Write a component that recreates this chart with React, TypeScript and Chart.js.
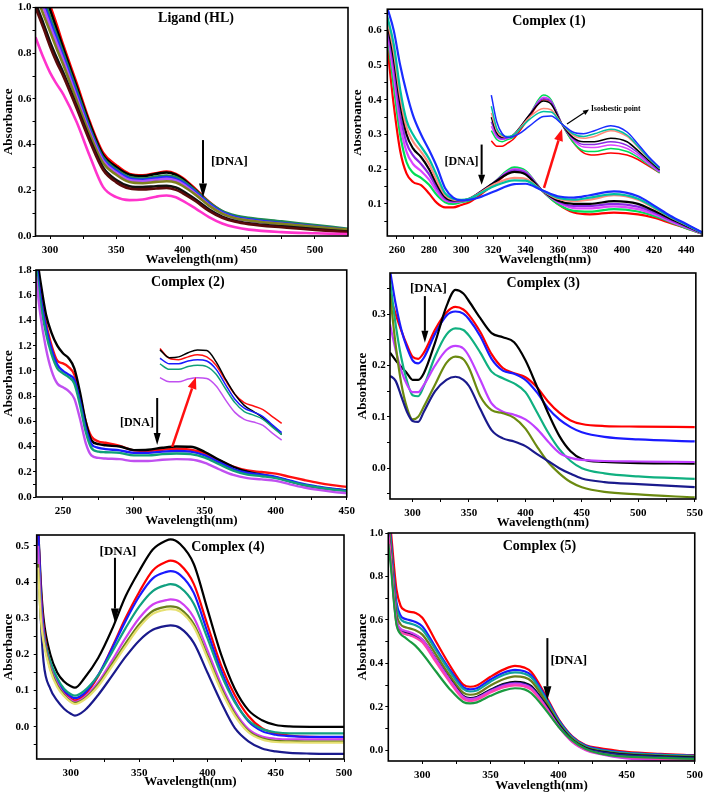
import React, { useEffect, useRef } from "react";
import { Chart, registerables } from "chart.js";

Chart.register(...registerables);

const FONT = "'Liberation Serif', 'Times New Roman', Times, serif";

// ---------------- Panel 1: Ligand (HL) ----------------
const ligWl = [289, 295, 300, 305, 310, 320, 330, 340, 350, 360, 370, 380, 388, 395, 400, 410, 420, 430, 440, 450, 475, 500, 525];
const ligRed = [1.2, 1.1, 1.01, 0.925, 0.835, 0.67, 0.5, 0.365, 0.31, 0.272, 0.266, 0.275, 0.282, 0.272, 0.255, 0.205, 0.15, 0.108, 0.084, 0.072, 0.055, 0.04, 0.026];
const ligBlack = [1.17, 1.08, 0.99, 0.905, 0.82, 0.655, 0.49, 0.355, 0.302, 0.268, 0.262, 0.272, 0.278, 0.268, 0.25, 0.2, 0.146, 0.105, 0.082, 0.07, 0.053, 0.038, 0.024];
const ligGreen = [1.12, 1.04, 0.96, 0.88, 0.8, 0.64, 0.475, 0.345, 0.292, 0.258, 0.252, 0.26, 0.265, 0.258, 0.243, 0.198, 0.148, 0.11, 0.09, 0.08, 0.064, 0.048, 0.032];
const ligBlue = [1.1, 1.02, 0.94, 0.865, 0.785, 0.625, 0.465, 0.337, 0.285, 0.252, 0.246, 0.253, 0.258, 0.25, 0.236, 0.192, 0.142, 0.104, 0.083, 0.073, 0.057, 0.042, 0.028];
const ligViolet = [1.08, 1.0, 0.92, 0.845, 0.77, 0.61, 0.455, 0.33, 0.278, 0.245, 0.24, 0.246, 0.25, 0.243, 0.228, 0.185, 0.136, 0.099, 0.078, 0.068, 0.052, 0.038, 0.025];
const ligOlive = [1.06, 0.97, 0.895, 0.82, 0.75, 0.595, 0.445, 0.32, 0.268, 0.236, 0.231, 0.237, 0.24, 0.234, 0.22, 0.18, 0.133, 0.098, 0.078, 0.068, 0.053, 0.04, 0.028];
const ligBlack2 = [1.02, 0.93, 0.85, 0.78, 0.715, 0.57, 0.425, 0.3, 0.245, 0.218, 0.214, 0.218, 0.22, 0.212, 0.198, 0.16, 0.117, 0.085, 0.066, 0.056, 0.042, 0.03, 0.019];
const ligMaroon = [1.0, 0.91, 0.83, 0.76, 0.7, 0.56, 0.415, 0.29, 0.235, 0.208, 0.204, 0.208, 0.21, 0.202, 0.188, 0.152, 0.11, 0.08, 0.062, 0.052, 0.038, 0.027, 0.017];
const ligPink = [0.87, 0.78, 0.715, 0.665, 0.62, 0.5, 0.35, 0.215, 0.17, 0.157, 0.16, 0.172, 0.177, 0.17, 0.155, 0.12, 0.083, 0.055, 0.038, 0.028, 0.017, 0.012, 0.008];

// ---------------- Panel 2: Complex (1) ----------------
const c1Wl = [254, 258, 262, 266, 270, 275, 280, 285, 290, 295, 300, 305, 310, 320, 333, 340, 350, 360, 370, 380, 395, 410, 420, 430, 440, 450];
const c1Red = [0.555, 0.385, 0.253, 0.187, 0.163, 0.154, 0.13, 0.102, 0.09, 0.09, 0.097, 0.105, 0.12, 0.155, 0.195, 0.19, 0.14, 0.1, 0.075, 0.07, 0.075, 0.07, 0.06, 0.045, 0.03, 0.014];
const c1Green = [0.59, 0.44, 0.3, 0.22, 0.19, 0.175, 0.155, 0.125, 0.105, 0.1, 0.105, 0.11, 0.125, 0.16, 0.205, 0.195, 0.14, 0.1, 0.08, 0.078, 0.085, 0.078, 0.065, 0.048, 0.03, 0.014];
const c1Magenta = [0.6, 0.47, 0.33, 0.25, 0.215, 0.195, 0.17, 0.135, 0.11, 0.105, 0.108, 0.113, 0.127, 0.16, 0.2, 0.192, 0.14, 0.105, 0.088, 0.087, 0.093, 0.085, 0.07, 0.05, 0.032, 0.015];
const c1Purple = [0.61, 0.5, 0.36, 0.275, 0.24, 0.215, 0.185, 0.145, 0.115, 0.107, 0.109, 0.114, 0.128, 0.16, 0.197, 0.19, 0.14, 0.108, 0.094, 0.094, 0.1, 0.092, 0.075, 0.054, 0.034, 0.015];
const c1Black = [0.62, 0.52, 0.39, 0.3, 0.26, 0.235, 0.2, 0.155, 0.12, 0.11, 0.11, 0.115, 0.128, 0.16, 0.192, 0.185, 0.14, 0.11, 0.1, 0.1, 0.108, 0.1, 0.08, 0.058, 0.037, 0.016];
const c1Salmon = [0.63, 0.54, 0.41, 0.32, 0.28, 0.25, 0.215, 0.165, 0.125, 0.112, 0.11, 0.115, 0.127, 0.155, 0.175, 0.172, 0.14, 0.115, 0.108, 0.112, 0.125, 0.112, 0.088, 0.062, 0.04, 0.017];
const c1Teal = [0.64, 0.56, 0.43, 0.34, 0.3, 0.265, 0.23, 0.18, 0.13, 0.115, 0.112, 0.115, 0.126, 0.15, 0.168, 0.167, 0.14, 0.118, 0.112, 0.118, 0.128, 0.115, 0.09, 0.063, 0.04, 0.017];
const c1Blue = [0.665, 0.6, 0.5, 0.42, 0.355, 0.3, 0.255, 0.205, 0.145, 0.118, 0.11, 0.112, 0.117, 0.135, 0.157, 0.158, 0.14, 0.122, 0.118, 0.125, 0.136, 0.122, 0.095, 0.066, 0.042, 0.018];

// ---------------- Panel 3: Complex (2) ----------------
const c2Wl = [231, 234, 238, 242, 246, 250, 254, 258, 262, 266, 270, 275, 280, 290, 300, 310, 320, 330, 340, 350, 360, 370, 380, 390, 400, 410, 420, 430, 440, 450];
const c2Black = [1.95, 1.72, 1.45, 1.3, 1.2, 1.14, 1.1, 1.02, 0.83, 0.6, 0.45, 0.42, 0.41, 0.4, 0.372, 0.375, 0.39, 0.4, 0.398, 0.357, 0.295, 0.24, 0.2, 0.178, 0.155, 0.125, 0.095, 0.075, 0.061, 0.053];
const c2Red = [1.85, 1.62, 1.38, 1.2, 1.08, 1.06, 1.03, 0.97, 0.8, 0.6, 0.48, 0.44, 0.43, 0.405, 0.37, 0.365, 0.375, 0.383, 0.375, 0.345, 0.29, 0.24, 0.21, 0.198, 0.185, 0.16, 0.135, 0.112, 0.094, 0.08];
const c2Blue = [1.88, 1.6, 1.35, 1.17, 1.05, 1.0, 0.97, 0.93, 0.76, 0.55, 0.42, 0.39, 0.38, 0.37, 0.35, 0.35, 0.36, 0.365, 0.36, 0.33, 0.275, 0.222, 0.19, 0.176, 0.16, 0.13, 0.102, 0.082, 0.065, 0.052];
const c2Teal = [1.82, 1.55, 1.3, 1.13, 1.02, 0.98, 0.95, 0.9, 0.73, 0.52, 0.39, 0.36, 0.355, 0.35, 0.33, 0.33, 0.34, 0.345, 0.34, 0.312, 0.26, 0.21, 0.178, 0.165, 0.15, 0.122, 0.095, 0.075, 0.059, 0.047];
const c2Magenta = [1.75, 1.45, 1.18, 1.0, 0.9, 0.87, 0.84, 0.78, 0.62, 0.43, 0.33, 0.31, 0.305, 0.3, 0.285, 0.285, 0.295, 0.3, 0.297, 0.27, 0.22, 0.175, 0.15, 0.14, 0.128, 0.1, 0.075, 0.056, 0.041, 0.031];

// ---------------- Panel 4: Complex (3) ----------------
const c3Wl = [280, 285, 290, 295, 300, 305, 310, 320, 330, 338, 345, 350, 360, 370, 380, 390, 400, 410, 420, 430, 440, 450, 470, 500, 550];
const c3Black = [0.225, 0.21, 0.197, 0.185, 0.172, 0.172, 0.185, 0.245, 0.315, 0.347, 0.34, 0.325, 0.292, 0.263, 0.255, 0.245, 0.21, 0.16, 0.108, 0.063, 0.033, 0.018, 0.012, 0.01, 0.009];
const c3Red = [0.335, 0.3, 0.268, 0.24, 0.217, 0.213, 0.225, 0.27, 0.303, 0.314, 0.309, 0.298, 0.265, 0.222, 0.195, 0.185, 0.177, 0.158, 0.13, 0.108, 0.093, 0.086, 0.082, 0.081, 0.08];
const c3Blue = [0.385, 0.32, 0.27, 0.235, 0.21, 0.204, 0.215, 0.262, 0.297, 0.305, 0.301, 0.29, 0.257, 0.213, 0.19, 0.184, 0.172, 0.148, 0.117, 0.095, 0.08, 0.07, 0.061, 0.056, 0.052];
const c3Teal = [0.365, 0.28, 0.215, 0.17, 0.142, 0.14, 0.16, 0.218, 0.26, 0.272, 0.269, 0.258, 0.225, 0.188, 0.175, 0.165, 0.148, 0.11, 0.07, 0.037, 0.014, 0.0, -0.01, -0.016, -0.021];
const c3Magenta = [0.28, 0.23, 0.19, 0.163, 0.148, 0.148, 0.162, 0.2, 0.23, 0.238, 0.233, 0.218, 0.172, 0.126, 0.11, 0.104, 0.095, 0.077, 0.052, 0.03, 0.02, 0.016, 0.014, 0.013, 0.012];
const c3Olive = [0.34, 0.24, 0.165, 0.118, 0.095, 0.1, 0.12, 0.163, 0.205, 0.217, 0.212, 0.195, 0.14, 0.113, 0.107, 0.098, 0.077, 0.043, 0.012, -0.01, -0.027, -0.037, -0.046, -0.051, -0.057];
const c3Navy = [0.18, 0.17, 0.14, 0.11, 0.092, 0.09, 0.11, 0.15, 0.172, 0.178, 0.172, 0.16, 0.115, 0.074, 0.058, 0.052, 0.043, 0.028, 0.014, 0.0, -0.011, -0.02, -0.027, -0.031, -0.037];

// ---------------- Panel 5: Complex (4) ----------------
const c4Wl = [276, 278, 280, 285, 290, 295, 300, 303, 310, 320, 330, 340, 350, 360, 370, 373, 380, 390, 400, 410, 420, 430, 440, 450, 460, 475, 500];
const c4Black = [0.56, 0.4, 0.3, 0.2, 0.15, 0.125, 0.112, 0.108, 0.135, 0.19, 0.268, 0.36, 0.43, 0.49, 0.515, 0.518, 0.505, 0.45, 0.325, 0.2, 0.105, 0.046, 0.018, 0.005, 0.001, 0.0, 0.0];
const c4Red = [0.55, 0.38, 0.28, 0.175, 0.125, 0.095, 0.078, 0.073, 0.088, 0.14, 0.218, 0.3, 0.372, 0.432, 0.456, 0.459, 0.448, 0.395, 0.282, 0.17, 0.088, 0.03, -0.004, -0.018, -0.024, -0.028, -0.029];
const c4Blue = [0.56, 0.37, 0.27, 0.17, 0.13, 0.1, 0.084, 0.079, 0.093, 0.143, 0.215, 0.292, 0.36, 0.41, 0.428, 0.43, 0.42, 0.37, 0.262, 0.155, 0.072, 0.015, -0.012, -0.022, -0.026, -0.028, -0.028];
const c4Teal = [0.5, 0.34, 0.26, 0.18, 0.135, 0.105, 0.09, 0.086, 0.1, 0.142, 0.205, 0.272, 0.332, 0.375, 0.392, 0.394, 0.385, 0.34, 0.245, 0.145, 0.068, 0.018, -0.006, -0.015, -0.018, -0.018, -0.018];
const c4Magenta = [0.5, 0.33, 0.25, 0.165, 0.12, 0.09, 0.074, 0.069, 0.082, 0.123, 0.182, 0.245, 0.3, 0.338, 0.35, 0.352, 0.345, 0.302, 0.212, 0.118, 0.043, -0.006, -0.027, -0.033, -0.035, -0.035, -0.035];
const c4Olive = [0.45, 0.3, 0.24, 0.16, 0.115, 0.088, 0.07, 0.066, 0.078, 0.117, 0.172, 0.23, 0.283, 0.32, 0.332, 0.333, 0.326, 0.284, 0.197, 0.107, 0.035, -0.012, -0.032, -0.039, -0.04, -0.041, -0.041];
const c4Yellow = [0.44, 0.3, 0.235, 0.155, 0.11, 0.085, 0.068, 0.063, 0.075, 0.112, 0.166, 0.222, 0.275, 0.312, 0.324, 0.325, 0.318, 0.276, 0.19, 0.101, 0.031, -0.015, -0.035, -0.042, -0.043, -0.044, -0.044];
const c4Navy = [0.55, 0.3, 0.18, 0.105, 0.072, 0.05, 0.036, 0.031, 0.045, 0.088, 0.14, 0.193, 0.238, 0.268, 0.279, 0.28, 0.273, 0.232, 0.15, 0.068, -0.003, -0.04, -0.06, -0.068, -0.072, -0.074, -0.075];

// ---------------- Panel 6: Complex (5) ----------------
const c5Wl = [275, 277, 279, 281, 284, 287, 290, 295, 300, 310, 320, 330, 335, 340, 350, 360, 368, 375, 380, 390, 400, 410, 420, 430, 440, 450, 475, 500];
const c5Red = [1.1, 1.0, 0.86, 0.74, 0.665, 0.645, 0.638, 0.632, 0.61, 0.5, 0.392, 0.302, 0.292, 0.298, 0.338, 0.372, 0.388, 0.38, 0.36, 0.258, 0.143, 0.064, 0.023, 0.009, 0.0, -0.008, -0.017, -0.023];
const c5Blue = [1.08, 0.96, 0.8, 0.68, 0.62, 0.605, 0.6, 0.59, 0.57, 0.47, 0.372, 0.29, 0.28, 0.285, 0.325, 0.358, 0.37, 0.363, 0.345, 0.25, 0.14, 0.062, 0.02, 0.004, -0.006, -0.012, -0.02, -0.025];
const c5Teal = [1.06, 0.94, 0.78, 0.66, 0.605, 0.59, 0.585, 0.575, 0.555, 0.46, 0.363, 0.282, 0.27, 0.275, 0.315, 0.347, 0.358, 0.352, 0.335, 0.243, 0.135, 0.058, 0.017, 0.001, -0.008, -0.014, -0.022, -0.027];
const c5Olive = [1.04, 0.92, 0.75, 0.63, 0.58, 0.567, 0.562, 0.552, 0.532, 0.44, 0.345, 0.265, 0.255, 0.26, 0.298, 0.328, 0.34, 0.335, 0.318, 0.23, 0.127, 0.053, 0.013, -0.003, -0.012, -0.018, -0.026, -0.03];
const c5Black = [1.0, 0.88, 0.72, 0.6, 0.555, 0.543, 0.538, 0.528, 0.508, 0.42, 0.328, 0.25, 0.24, 0.245, 0.278, 0.305, 0.315, 0.31, 0.295, 0.215, 0.12, 0.048, 0.01, -0.006, -0.015, -0.021, -0.029, -0.033];
const c5Magenta = [1.0, 0.88, 0.72, 0.6, 0.56, 0.55, 0.545, 0.532, 0.51, 0.418, 0.325, 0.245, 0.235, 0.24, 0.272, 0.298, 0.306, 0.3, 0.285, 0.205, 0.11, 0.038, 0.0, -0.018, -0.03, -0.038, -0.046, -0.05];
const c5Pink = [0.98, 0.86, 0.7, 0.58, 0.545, 0.535, 0.53, 0.518, 0.497, 0.405, 0.315, 0.236, 0.226, 0.232, 0.265, 0.29, 0.298, 0.293, 0.278, 0.2, 0.108, 0.04, 0.002, -0.015, -0.025, -0.032, -0.04, -0.045];
const c5Navy = [1.0, 0.87, 0.71, 0.59, 0.55, 0.538, 0.532, 0.522, 0.502, 0.413, 0.322, 0.246, 0.237, 0.242, 0.276, 0.302, 0.31, 0.305, 0.29, 0.21, 0.116, 0.045, 0.008, -0.008, -0.017, -0.023, -0.031, -0.035];
const c5Green = [0.95, 0.84, 0.69, 0.58, 0.535, 0.52, 0.505, 0.48, 0.445, 0.362, 0.282, 0.222, 0.215, 0.22, 0.25, 0.275, 0.285, 0.28, 0.262, 0.19, 0.108, 0.045, 0.005, -0.015, -0.025, -0.03, -0.036, -0.04];

// ---------------- Tick labels ----------------
const ligXMajor = [300, 350, 400, 450, 500];
const ligXMinor = [325, 375, 425, 475];
const ligYMajor = [0, 0.2, 0.4, 0.6, 0.8, 1.0];
const ligYMinor = [0.1, 0.3, 0.5, 0.7, 0.9];
const c1XMajor = [260, 280, 300, 320, 340, 360, 380, 400, 420, 440];
const c1XMinor = [270, 290, 310, 330, 350, 370, 390, 410, 430];
const c1YMajor = [0.1, 0.2, 0.3, 0.4, 0.5, 0.6];
const c1YMinor = [0.05, 0.15, 0.25, 0.35, 0.45, 0.55, 0.65];
const c2XMajor = [250, 300, 350, 400, 450];
const c2XMinor = [275, 325, 375, 425];
const c2YMajor = [0, 0.2, 0.4, 0.6, 0.8, 1.0, 1.2, 1.4, 1.6, 1.8];
const c2YMinor = [0.1, 0.3, 0.5, 0.7, 0.9, 1.1, 1.3, 1.5, 1.7];
const c3XMajor = [300, 350, 400, 450, 500, 550];
const c3XMinor = [325, 375, 425, 475, 525];
const c3YMajor = [0, 0.1, 0.2, 0.3];
const c3YMinor = [-0.05, 0.05, 0.15, 0.25, 0.35];
const c4XMajor = [300, 350, 400, 450, 500];
const c4XMinor = [325, 375, 425, 475];
const c4YMajor = [0, 0.1, 0.2, 0.3, 0.4, 0.5];
const c4YMinor = [-0.05, 0.05, 0.15, 0.25, 0.35, 0.45];
const c5XMajor = [300, 350, 400, 450, 500];
const c5XMinor = [325, 375, 425, 475];
const c5YMajor = [0, 0.2, 0.4, 0.6, 0.8, 1.0];
const c5YMinor = [0.1, 0.3, 0.5, 0.7, 0.9];

type Series = { label: string; color: string; values: number[] };
type Txt = { x: number; y: number; text: string; size: number; align: CanvasTextAlign };
type Arr = { x1: number; y1: number; x2: number; y2: number; color: string; w: number; hl: number; hw: number };
type Inset = { xMin: number; xMax: number; yMin: number; yMax: number; lo: number; hi: number; width: number };
type Panel = {
  id: string;
  box: { x: number; y: number; w: number; h: number };
  padTop: number; padRight: number; yW: number; xH: number;
  yTitlePad: number; yLabelPad: number;
  wl: number[]; series: Series[]; lw: number;
  xMin: number; xMax: number; yMin: number; yMax: number;
  xMajor: number[]; xMinor: number[]; yMajor: number[]; yMinor: number[];
  texts: Txt[]; arrows: Arr[]; inset?: Inset;
};

const panels: Panel[] = [
  {
    id: "lig", box: { x: 0, y: 0, w: 360, h: 266 }, padTop: 5, padRight: 12, yW: 35.5, xH: 30,
    yTitlePad: 1.8, yLabelPad: 1,
    wl: ligWl, lw: 2.6,
    series: [
      { label: "pink", color: "#ff33cc", values: ligPink },
      { label: "maroon", color: "#5a0a0a", values: ligMaroon },
      { label: "black2", color: "#111111", values: ligBlack2 },
      { label: "olive", color: "#808020", values: ligOlive },
      { label: "violet", color: "#b050ff", values: ligViolet },
      { label: "blue", color: "#2030ff", values: ligBlue },
      { label: "green", color: "#208a50", values: ligGreen },
      { label: "black", color: "#000000", values: ligBlack },
      { label: "red", color: "#ff0000", values: ligRed },
    ],
    xMin: 289, xMax: 525, yMin: 0, yMax: 1.0,
    xMajor: ligXMajor, xMinor: ligXMinor, yMajor: ligYMajor, yMinor: ligYMinor,
    texts: [
      { x: 410.2, y: 0.952, text: "Ligand (HL)", size: 14, align: "center" },
      { x: 421.5, y: 0.325, text: "[DNA]", size: 13, align: "left" },
    ],
    arrows: [{ x1: 415.5, y1: 0.42, x2: 415.5, y2: 0.169, color: "#000", w: 2, hl: 14, hw: 8 }],
  },
  {
    id: "c1", box: { x: 354, y: 0, w: 354, h: 266 }, padTop: 5, padRight: 5.7, yW: 33.3, xH: 30,
    yTitlePad: -2.5, yLabelPad: 2.6,
    wl: c1Wl, lw: 2.2,
    series: [
      { label: "blue", color: "#1a2cff", values: c1Blue },
      { label: "teal", color: "#00c0a0", values: c1Teal },
      { label: "salmon", color: "#ff8a7a", values: c1Salmon },
      { label: "black", color: "#000000", values: c1Black },
      { label: "purple", color: "#8a2be2", values: c1Purple },
      { label: "magenta", color: "#dd44ff", values: c1Magenta },
      { label: "green", color: "#00dd55", values: c1Green },
      { label: "red", color: "#ff0000", values: c1Red },
    ],
    xMin: 254, xMax: 450, yMin: 0.0075, yMax: 0.661,
    xMajor: c1XMajor, xMinor: c1XMinor, yMajor: c1YMajor, yMinor: c1YMinor,
    texts: [
      { x: 354.6, y: 0.627, text: "Complex (1)", size: 14, align: "center" },
      { x: 310.8, y: 0.22, text: "[DNA]", size: 12, align: "right" },
      { x: 380.8, y: 0.372, text: "Isosbestic point", size: 7.5, align: "left" },
    ],
    arrows: [
      { x1: 312.7, y1: 0.271, x2: 312.7, y2: 0.155, color: "#000", w: 2, hl: 10, hw: 7 },
      { x1: 351.5, y1: 0.146, x2: 362.7, y2: 0.316, color: "#ff1010", w: 2.5, hl: 12, hw: 9 },
      { x1: 365.8, y1: 0.33, x2: 379.5, y2: 0.372, color: "#000", w: 1.2, hl: 6, hw: 5 },
    ],
    inset: { xMin: 189.2, xMax: 479.3, yMin: -0.1121, yMax: 0.3984, lo: 285, hi: 440, width: 1.5 },
  },
  {
    id: "c2", box: { x: 0, y: 262, w: 360, h: 265 }, padTop: 8, padRight: 13, yW: 36, xH: 30,
    yTitlePad: 1.8, yLabelPad: 1.3,
    wl: c2Wl, lw: 2.4,
    series: [
      { label: "magenta", color: "#c050f0", values: c2Magenta },
      { label: "teal", color: "#10a078", values: c2Teal },
      { label: "blue", color: "#1a1aff", values: c2Blue },
      { label: "black", color: "#000000", values: c2Black },
      { label: "red", color: "#ff1010", values: c2Red },
    ],
    xMin: 231, xMax: 450, yMin: 0, yMax: 1.8,
    xMajor: c2XMajor, xMinor: c2XMinor, yMajor: c2YMajor, yMinor: c2YMinor,
    texts: [
      { x: 338, y: 1.705, text: "Complex (2)", size: 14, align: "center" },
      { x: 314.1, y: 0.587, text: "[DNA]", size: 12, align: "right" },
    ],
    arrows: [
      { x1: 316.4, y1: 0.785, x2: 316.4, y2: 0.412, color: "#000", w: 2, hl: 12, hw: 7 },
      { x1: 327, y1: 0.397, x2: 343.7, y2: 0.952, color: "#ff1010", w: 2.5, hl: 12, hw: 9 },
    ],
    inset: { xMin: 157.6, xMax: 489.5, yMin: -0.13, yMax: 0.688, lo: 290, hi: 425, width: 1.5 },
  },
  {
    id: "c3", box: { x: 354, y: 262, w: 354, h: 267 }, padTop: 11, padRight: 10.7, yW: 36, xH: 30,
    yTitlePad: 1.8, yLabelPad: 1.3,
    wl: c3Wl, lw: 2.2,
    series: [
      { label: "navy", color: "#1a1a8c", values: c3Navy },
      { label: "olive", color: "#6b8a10", values: c3Olive },
      { label: "magenta", color: "#c040ff", values: c3Magenta },
      { label: "teal", color: "#10b080", values: c3Teal },
      { label: "black", color: "#000000", values: c3Black },
      { label: "blue", color: "#1a1aff", values: c3Blue },
      { label: "red", color: "#ff0000", values: c3Red },
    ],
    xMin: 280, xMax: 551, yMin: -0.06, yMax: 0.38,
    xMajor: c3XMajor, xMinor: c3XMinor, yMajor: c3YMajor, yMinor: c3YMinor,
    texts: [
      { x: 415.8, y: 0.359, text: "Complex (3)", size: 14, align: "center" },
      { x: 314, y: 0.349, text: "[DNA]", size: 13, align: "center" },
    ],
    arrows: [{ x1: 310.9, y1: 0.335, x2: 310.9, y2: 0.244, color: "#000", w: 2, hl: 12, hw: 7 }],
  },
  {
    id: "c4", box: { x: 0, y: 524, w: 360, h: 264 }, padTop: 10, padRight: 16, yW: 36.7, xH: 29,
    yTitlePad: 2.5, yLabelPad: 4.4,
    wl: c4Wl, lw: 2.2,
    series: [
      { label: "yellow", color: "#e6e070", values: c4Yellow },
      { label: "olive", color: "#6b7f1a", values: c4Olive },
      { label: "magenta", color: "#d040f0", values: c4Magenta },
      { label: "teal", color: "#10a080", values: c4Teal },
      { label: "blue", color: "#1a1aff", values: c4Blue },
      { label: "red", color: "#ff0000", values: c4Red },
      { label: "navy", color: "#1a1a8c", values: c4Navy },
      { label: "black", color: "#000000", values: c4Black },
    ],
    xMin: 275, xMax: 500, yMin: -0.089, yMax: 0.53,
    xMajor: c4XMajor, xMinor: c4XMinor, yMajor: c4YMajor, yMinor: c4YMinor,
    texts: [
      { x: 415, y: 0.497, text: "Complex (4)", size: 14, align: "center" },
      { x: 334.5, y: 0.483, text: "[DNA]", size: 13, align: "center" },
    ],
    arrows: [{ x1: 332.3, y1: 0.467, x2: 332.3, y2: 0.288, color: "#000", w: 2, hl: 14, hw: 8 }],
  },
  {
    id: "c5", box: { x: 354, y: 523, w: 354, h: 269 }, padTop: 10, padRight: 10, yW: 34.3, xH: 31,
    yTitlePad: 2.5, yLabelPad: 2,
    wl: c5Wl, lw: 2.2,
    series: [
      { label: "green", color: "#1a9a40", values: c5Green },
      { label: "pink", color: "#ff40b0", values: c5Pink },
      { label: "magenta", color: "#d040f0", values: c5Magenta },
      { label: "navy", color: "#1a1a8c", values: c5Navy },
      { label: "black", color: "#000000", values: c5Black },
      { label: "olive", color: "#6b7f1a", values: c5Olive },
      { label: "teal", color: "#10a0a0", values: c5Teal },
      { label: "blue", color: "#1a1aff", values: c5Blue },
      { label: "red", color: "#ff0000", values: c5Red },
    ],
    xMin: 275, xMax: 500, yMin: -0.05, yMax: 1.0,
    xMajor: c5XMajor, xMinor: c5XMinor, yMajor: c5YMajor, yMinor: c5YMinor,
    texts: [
      { x: 386, y: 0.94, text: "Complex (5)", size: 14, align: "center" },
      { x: 394, y: 0.414, text: "[DNA]", size: 13, align: "left" },
    ],
    arrows: [{ x1: 391.8, y1: 0.516, x2: 391.8, y2: 0.23, color: "#000", w: 2, hl: 14, hw: 8 }],
  },
];

function drawArrow(ctx: CanvasRenderingContext2D, x1: number, y1: number, x2: number, y2: number, a: Arr) {
  const ang = Math.atan2(y2 - y1, x2 - x1);
  const bx = x2 - a.hl * Math.cos(ang);
  const by = y2 - a.hl * Math.sin(ang);
  ctx.strokeStyle = a.color;
  ctx.lineWidth = a.w;
  ctx.beginPath();
  ctx.moveTo(x1, y1);
  ctx.lineTo(bx, by);
  ctx.stroke();
  ctx.fillStyle = a.color;
  ctx.beginPath();
  ctx.moveTo(x2, y2);
  ctx.lineTo(bx + (a.hw / 2) * Math.sin(ang), by - (a.hw / 2) * Math.cos(ang));
  ctx.lineTo(bx - (a.hw / 2) * Math.sin(ang), by + (a.hw / 2) * Math.cos(ang));
  ctx.closePath();
  ctx.fill();
}

const isIn = (v: number, arr: number[]) => arr.some((m) => Math.abs(m - v) < 1e-6);

function buildConfig(p: Panel): any {
  const datasets: any[] = p.series.map((s) => ({
    label: s.label,
    data: p.wl.map((x, i) => ({ x, y: s.values[i] })),
    borderColor: s.color,
    backgroundColor: s.color,
    borderWidth: p.lw,
    pointRadius: 0,
    fill: false,
    tension: 0.4,
    cubicInterpolationMode: "monotone",
    xAxisID: "x",
    yAxisID: "y",
  }));
  const scales: any = {
    x: {
      type: "linear",
      position: "bottom",
      min: p.xMin,
      max: p.xMax,
      afterBuildTicks: (ax: any) => {
        ax.ticks = [...p.xMajor, ...p.xMinor].sort((a, b) => a - b).map((v) => ({ value: v }));
      },
      afterFit: (ax: any) => {
        ax.height = p.xH;
      },
      ticks: {
        autoSkip: false,
        maxRotation: 0,
        padding: 5,
        color: "#000",
        font: { family: FONT, size: 11, weight: "bold" },
        callback: (v: number) => (isIn(v, p.xMajor) ? String(Math.round(v)) : ""),
      },
      grid: { display: true, drawOnChartArea: false, drawTicks: true, tickLength: 3, color: "#000", lineWidth: 1 },
      border: { display: false },
      title: {
        display: true,
        text: "Wavelength(nm)",
        color: "#000",
        font: { family: FONT, size: 13, weight: "bold", lineHeight: 1 },
        padding: { top: 0, bottom: 0 },
      },
    },
    y: {
      type: "linear",
      position: "left",
      min: p.yMin,
      max: p.yMax,
      afterBuildTicks: (ax: any) => {
        ax.ticks = [...p.yMajor, ...p.yMinor].sort((a, b) => a - b).map((v) => ({ value: v }));
      },
      afterFit: (ax: any) => {
        ax.width = p.yW;
      },
      ticks: {
        autoSkip: false,
        padding: p.yLabelPad,
        color: "#000",
        font: { family: FONT, size: 11, weight: "bold" },
        callback: (v: number) => (isIn(v, p.yMajor) ? v.toFixed(1) : ""),
      },
      grid: { display: true, drawOnChartArea: false, drawTicks: true, tickLength: 3, color: "#000", lineWidth: 1 },
      border: { display: false },
      title: {
        display: true,
        text: "Absorbance",
        color: "#000",
        font: { family: FONT, size: 13, weight: "bold", lineHeight: 1 },
        padding: { top: p.yTitlePad, bottom: 0 },
      },
    },
  };
  if (p.inset) {
    const ins = p.inset;
    scales.xi = { type: "linear", display: false, min: ins.xMin, max: ins.xMax };
    scales.yi = { type: "linear", display: false, min: ins.yMin, max: ins.yMax };
    p.series.forEach((s) => {
      datasets.push({
        label: s.label + " (inset)",
        data: p.wl.map((x, i) => ({ x, y: s.values[i] })).filter((pt) => pt.x >= ins.lo && pt.x <= ins.hi),
        borderColor: s.color,
        backgroundColor: s.color,
        borderWidth: ins.width,
        pointRadius: 0,
        fill: false,
        tension: 0.4,
        cubicInterpolationMode: "monotone",
        xAxisID: "xi",
        yAxisID: "yi",
      });
    });
  }
  const annPlugin = {
    id: "ann_" + p.id,
    afterDraw(chart: any) {
      const { ctx, chartArea: a, scales: sc } = chart;
      ctx.save();
      ctx.strokeStyle = "#000";
      ctx.lineWidth = 1.6;
      ctx.strokeRect(a.left, a.top, a.right - a.left, a.bottom - a.top);
      const px = (v: number) => sc.x.getPixelForValue(v);
      const py = (v: number) => sc.y.getPixelForValue(v);
      p.arrows.forEach((ar) => drawArrow(ctx, px(ar.x1), py(ar.y1), px(ar.x2), py(ar.y2), ar));
      p.texts.forEach((t) => {
        ctx.font = `bold ${t.size}px ${FONT}`;
        ctx.fillStyle = "#000";
        ctx.textAlign = t.align;
        ctx.textBaseline = "middle";
        ctx.fillText(t.text, px(t.x), py(t.y));
      });
      ctx.restore();
    },
  };
  return {
    type: "line",
    data: { datasets },
    options: {
      animation: false,
      responsive: false,
      maintainAspectRatio: false,
      devicePixelRatio: 1,
      events: [],
      layout: { padding: { left: 0, top: p.padTop, right: p.padRight, bottom: 0 } },
      plugins: { legend: { display: false }, tooltip: { enabled: false }, title: { display: false } },
      scales,
    },
    plugins: [annPlugin],
  };
}

function PanelChart({ cfg }: { cfg: Panel }) {
  const ref = useRef<HTMLCanvasElement>(null);
  useEffect(() => {
    if (!ref.current) return;
    const chart = new Chart(ref.current, buildConfig(cfg));
    return () => chart.destroy();
  }, [cfg]);
  return (
    <div style={{ position: "absolute", left: cfg.box.x, top: cfg.box.y, width: cfg.box.w, height: cfg.box.h }}>
      <canvas ref={ref} width={cfg.box.w} height={cfg.box.h} style={{ width: cfg.box.w, height: cfg.box.h, display: "block" }} />
    </div>
  );
}

export default function App() {
  return (
    <div style={{ position: "absolute", left: 0, top: 0, width: 708, height: 793, background: "#fff", overflow: "hidden" }}>
      {panels.map((p) => (
        <PanelChart key={p.id} cfg={p} />
      ))}
    </div>
  );
}
